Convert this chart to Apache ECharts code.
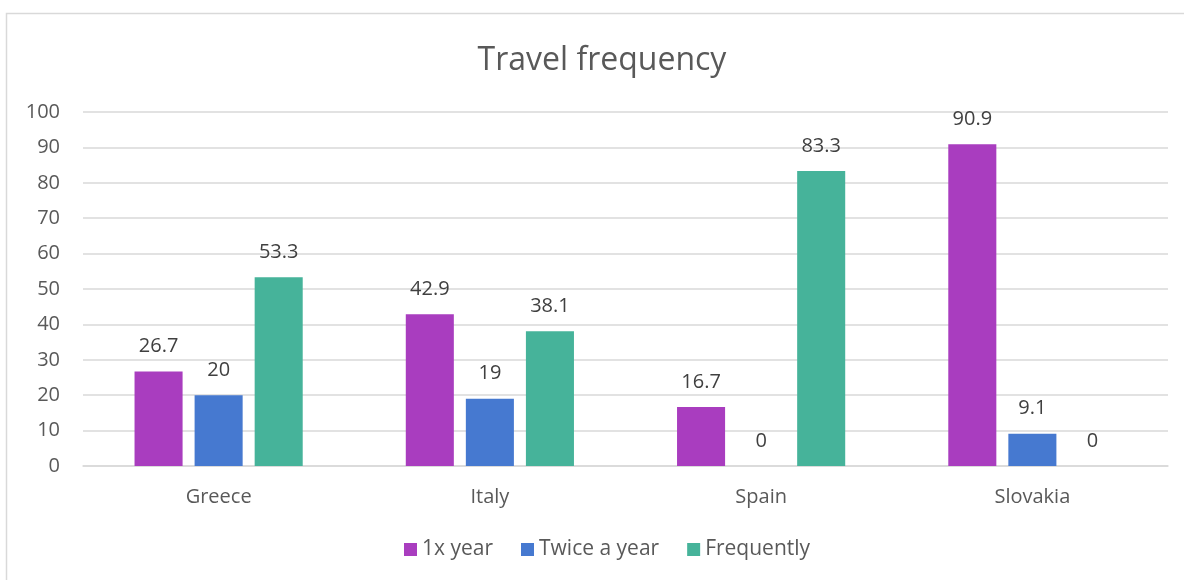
<!DOCTYPE html>
<html>
<head>
<meta charset="utf-8">
<script src="https://cdn.jsdelivr.net/npm/echarts@6/dist/echarts.min.js"></script>
<style>
  html, body { margin: 0; padding: 0; background: #fff; }
  #chart { width: 1184px; height: 580px; }
</style>
</head>
<body>
<div id="chart"></div>
<script>
const countries = ['Greece', 'Italy', 'Spain', 'Slovakia'];
const onceYear = [26.7, 42.9, 16.7, 90.9];
const twiceYear = [20, 19, 0, 9.1];
const frequently = [53.3, 38.1, 83.3, 0];

const labelStyle = {
    show: true,
    position: 'top',
    distance: 15,
    color: '#404040',
    fontSize: 20,
    fontFamily: 'Open Sans'
};

const chart = echarts.init(document.getElementById('chart'));
chart.setOption({
    animation: false,
    textStyle: { fontFamily: 'Open Sans' },
    graphic: [{
        type: 'rect',
        z: -10,
        shape: { x: 6.5, y: 13.5, width: 1200, height: 600 },
        style: { fill: '#fff', stroke: '#d9d9d9', lineWidth: 1.5 }
    }],
    title: {
        text: 'Travel frequency',
        left: 597,
        textAlign: 'center',
        top: 40,
        textStyle: { color: '#595959', fontSize: 32, fontWeight: 'normal', fontFamily: 'Open Sans' }
    },
    legend: {
        bottom: 15,
        left: 399,
        itemWidth: 13,
        itemHeight: 13,
        itemGap: 28,
        icon: 'rect',
        textStyle: { color: '#595959', fontSize: 21, fontFamily: 'Open Sans' },
        data: ['1x year', 'Twice a year', 'Frequently']
    },
    grid: { left: 83, right: 16, top: 112, bottom: 114 },
    xAxis: {
        type: 'category',
        data: countries,
        axisLine: { lineStyle: { color: '#d9d9d9', width: 1.5 } },
        axisTick: { show: false },
        axisLabel: { color: '#595959', fontSize: 20, margin: 21 }
    },
    yAxis: {
        type: 'value',
        min: 0,
        max: 100,
        interval: 10,
        axisLine: { show: false },
        axisTick: { show: false },
        splitLine: { lineStyle: { color: '#d9d9d9', width: 1.5 } },
        axisLabel: { color: '#595959', fontSize: 20, margin: 23 }
    },
    series: [
        {
            name: '1x year', type: 'bar', data: onceYear,
            barGap: '25%', barCategoryGap: '38%',
            itemStyle: { color: '#a93dbf' }, label: labelStyle
        },
        {
            name: 'Twice a year', type: 'bar', data: twiceYear,
            itemStyle: { color: '#4679d0' }, label: labelStyle
        },
        {
            name: 'Frequently', type: 'bar', data: frequently,
            itemStyle: { color: '#46b39a' }, label: labelStyle
        }
    ]
});
</script>
</body>
</html>
